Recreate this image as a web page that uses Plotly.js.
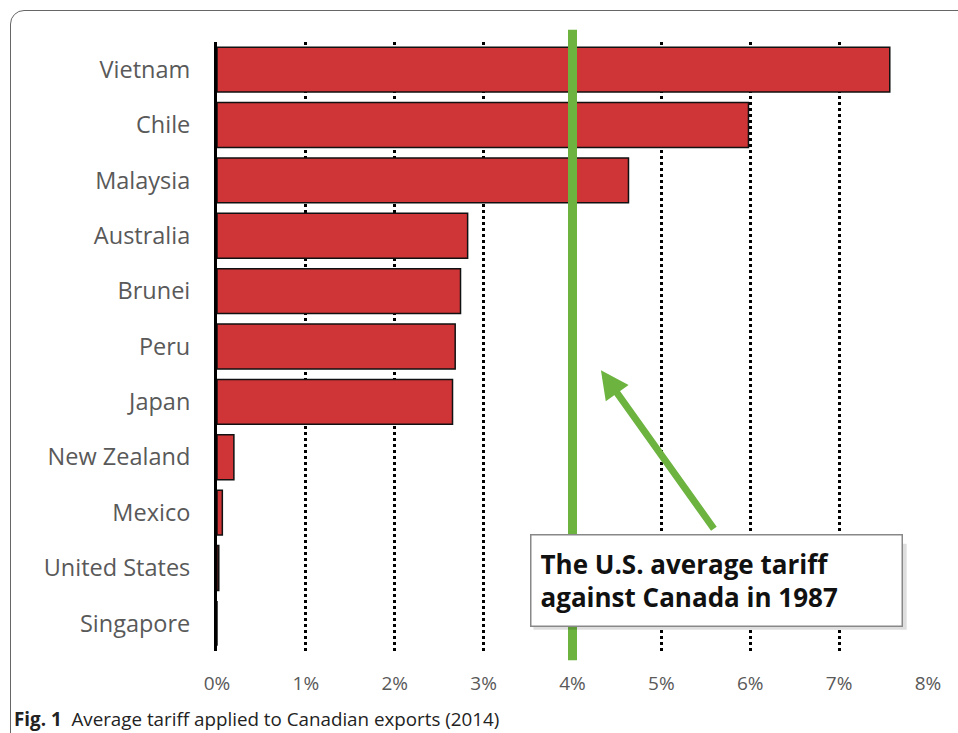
<!DOCTYPE html>
<html><head><meta charset="utf-8">
<script src="https://cdn.plot.ly/plotly-3.0.1.min.js"></script>
<style>
html,body{margin:0;padding:0;background:#fff;overflow:hidden;}
#frame{position:absolute;left:10px;top:10px;width:1000px;height:800px;border:1.5px solid #666;border-radius:14px;box-sizing:border-box;}
#chart{position:absolute;left:0;top:0;width:958px;height:733px;}
</style></head>
<body>
<div id="frame"></div>
<div id="chart"></div>
<script>
const countries = ["Vietnam","Chile","Malaysia","Australia","Brunei","Peru","Japan","New Zealand","Mexico","United States","Singapore"];
const tariffs = [7.57, 5.98, 4.63, 2.82, 2.74, 2.68, 2.65, 0.19, 0.06, 0.02, 0.0];
const tickValues = [0,1,2,3,4,5,6,7,8];
const tickLabels = ["0%","1%","2%","3%","4%","5%","6%","7%","8%"];
const usTariff1987 = 4;
const noteText = "The U.S. average tariff<br>against Canada in 1987";
const captionText = "<b>Fig. 1</b>  Average tariff applied to Canadian exports (2014)";

const trace = {
  type: "bar", orientation: "h",
  x: tariffs, y: countries,
  marker: {color: "#cf3437", line: {color: "#111", width: 1.5}},
  hoverinfo: "skip"
};

const layout = {
  width: 958, height: 733,
  margin: {l: 217, r: 30, t: 42, b: 82},
  paper_bgcolor: "rgba(0,0,0,0)", plot_bgcolor: "rgba(0,0,0,0)",
  showlegend: false,
  bargap: 0.19,
  font: {family: "'Open Sans', sans-serif", color: "#595959"},
  xaxis: {
    range: [0, 8], tickvals: tickValues, ticktext: tickLabels,
    showgrid: true, gridcolor: "#000", gridwidth: 3, griddash: "dot",
    zeroline: false, showline: false, ticks: "",
    tickfont: {size: 19, color: "#595959"}, ticklabelstandoff: 19,
    fixedrange: true
  },
  yaxis: {
    type: "category", autorange: false, range: [10.5, -0.5],
    showgrid: false, zeroline: false,
    showline: true, linecolor: "#000", linewidth: 3,
    ticks: "", ticklabelstandoff: 19,
    tickfont: {size: 23.5, color: "#595959"},
    fixedrange: true
  },
  shapes: [
    {type: "line", xref: "x", yref: "paper", x0: usTariff1987, x1: usTariff1987, y0: -0.015, y1: 1.02,
     line: {color: "#6cb33f", width: 9}, layer: "above"},
    {type: "rect", xref: "x", yref: "paper", x0: 3.56, x1: 7.76, y0: 0.035, y1: 0.176,
     fillcolor: "rgba(0,0,0,0.13)", line: {width: 0}, layer: "above"}
  ],
  annotations: [
    {xref: "x", yref: "paper", x: 4.32, y: 0.461, ax: 114, ay: 160, axref: "pixel", ayref: "pixel",
     text: "", showarrow: true, arrowhead: 2, arrowsize: 0.8, arrowwidth: 7, arrowcolor: "#6cb33f"},
    {xref: "x", yref: "paper", x: 5.615, y: 0.115, xanchor: "center", yanchor: "middle",
     text: noteText, showarrow: false, align: "left", width: 352, height: 72,
     bgcolor: "#fff", bordercolor: "#888", borderwidth: 1.5, borderpad: 9,
     font: {family: "'Open Sans', sans-serif", size: 26, color: "#111", weight: "bold"}},
    {xref: "paper", yref: "paper", x: -0.288, y: -0.112, xanchor: "left", yanchor: "middle",
     text: captionText, showarrow: false, align: "left",
     font: {family: "'Open Sans', sans-serif", size: 18.8, color: "#222"}}
  ]
};

Plotly.newPlot("chart", [trace], layout, {displayModeBar: false, staticPlot: true});
</script>
</body></html>
